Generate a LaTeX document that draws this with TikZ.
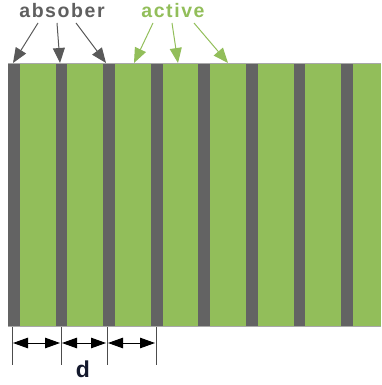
\documentclass[tikz,border=0pt]{standalone}
\usepackage{fontspec}
\setmainfont{Liberation Sans}
\usetikzlibrary{arrows.meta}
\definecolor{absorb}{HTML}{636363}
\definecolor{activeg}{HTML}{92BE5A}
\definecolor{labgray}{HTML}{5F5F5F}
\definecolor{arrgray}{HTML}{595959}
\definecolor{edgegray}{HTML}{A8A8A8}
\begin{document}
\begin{tikzpicture}[x=1pt,y=-1pt,
  lbl/.style={inner sep=0pt,font=\fontsize{19.5}{19.5}\selectfont\bfseries\addfontfeatures{LetterSpace=8}},
  callout/.style={line width=1pt,-{Triangle[length=15pt,width=12pt]}},
  dimarrow/.style={line width=1pt,{Triangle[length=15pt,width=10.5pt]}-{Triangle[length=15pt,width=10.5pt]},shorten <=1pt,shorten >=1pt},
  tick/.style={line width=0.8pt,draw=black!70}]
\useasboundingbox (0,0) rectangle (381,385);
% active layer
\fill[activeg] (8,63) rectangle (381,326);
% absorber strips
\foreach \k in {0,...,7}{
  \fill[absorb] ({8+47.6*\k},63) rectangle ({19.7+47.6*\k},326);
}
\draw[edgegray,line width=0.8pt] (8,63) -- (381,63);
\draw[edgegray,line width=0.8pt] (8,326) -- (381,326);
% labels
\node[lbl,text=labgray] (abs) at (62,11) {absober};
\node[lbl,text=activeg] (act) at (173,11) {active};
% callout coordinates
\coordinate (a1s) at (38,23); \coordinate (a1e) at (13,63);
\coordinate (a2s) at (57,23); \coordinate (a2e) at (60,63);
\coordinate (a3s) at (76,23); \coordinate (a3e) at (106,63);
\coordinate (g1s) at (153,23); \coordinate (g1e) at (134,63);
\coordinate (g2s) at (172,23); \coordinate (g2e) at (178,63);
\coordinate (g3s) at (194,23); \coordinate (g3e) at (228,63);
\draw[callout,arrgray] (a1s) -- (a1e);
\draw[callout,arrgray] (a2s) -- (a2e);
\draw[callout,arrgray] (a3s) -- (a3e);
\draw[callout,activeg] (g1s) -- (g1e);
\draw[callout,activeg] (g2s) -- (g2e);
\draw[callout,activeg] (g3s) -- (g3e);
% dimension ticks
\coordinate (t1a) at (12,327); \coordinate (t1b) at (12,365);
\coordinate (t2a) at (61,327); \coordinate (t2b) at (61,365);
\coordinate (t3a) at (107,327); \coordinate (t3b) at (107,365);
\coordinate (t4a) at (156,327); \coordinate (t4b) at (156,365);
\draw[tick] (t1a) -- (t1b);
\draw[tick] (t2a) -- (t2b);
\draw[tick] (t3a) -- (t3b);
\draw[tick] (t4a) -- (t4b);
\coordinate (d1) at (12,343); \coordinate (d2) at (61,343);
\coordinate (d3) at (107,343); \coordinate (d4) at (156,343);
\draw[dimarrow] (d1) -- (d2);
\draw[dimarrow] (d2) -- (d3);
\draw[dimarrow] (d3) -- (d4);
\node[inner sep=0pt,font=\fontsize{23}{23}\selectfont\bfseries,text={rgb,255:red,20;green,25;blue,45}] (d) at (83,369) {d};
\end{tikzpicture}
\end{document}
